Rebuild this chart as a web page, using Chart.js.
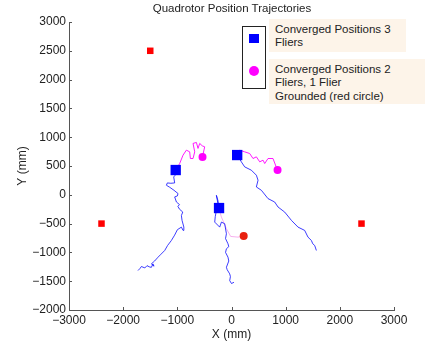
<!DOCTYPE html>
<html>
<head>
<meta charset="utf-8">
<script src="https://cdn.jsdelivr.net/npm/chart.js@4"></script>
<style>
  body { margin: 0; background: #fff; }
  #wrap { position: relative; width: 428px; height: 345px; font-family: "Liberation Sans", Arial, sans-serif; color: #222; }
  #title { position: absolute; left: 0; width: 464px; top: 2px; text-align: center; font-size: 11.5px; }
  .lgbox { position: absolute; left: 242px; top: 26px; width: 22px; height: 61px; border: 1px solid #222; }
  .lgsq { position: absolute; left: 249px; top: 34px; width: 10px; height: 9px; background: #0000ff; }
  .lgci { position: absolute; left: 249px; top: 66px; width: 10px; height: 10px; border-radius: 50%; background: #ff00ff; }
  .lgtxt { position: absolute; left: 269px; background: #fdf4e9; font-size: 11.5px; padding-left: 6px; box-sizing: border-box; }
</style>
</head>
<body>
<div id="wrap">
  <canvas id="c" width="428" height="345"></canvas>
  <div id="title">Quadrotor Position Trajectories</div>
  <div class="lgbox"></div>
  <div class="lgsq"></div>
  <div class="lgci"></div>
  <div class="lgtxt" style="top:19px;width:137px;height:33px;line-height:13px;padding-top:4px;">Converged Positions 3<br>Fliers</div>
  <div class="lgtxt" style="top:59px;width:156px;height:45px;line-height:13.3px;padding-top:4px;">Converged Positions 2<br>Fliers, 1 Flier<br>Grounded (red circle)</div>
</div>
<script>
// axis ticks
const xTicks = [-3000, -2000, -1000, 0, 1000, 2000, 3000];
const yTicks = [-2000, -1500, -1000, -500, 0, 500, 1000, 1500, 2000, 2500, 3000];

// markers
const redSqX = [-1500, -2400, 2400];
const redSqY = [2500, -500, -500];
const blueSqX = [-1030, 105, -230];
const blueSqY = [430, 690, -230];
const magCircX = [-535, 850];
const magCircY = [655, 430];
const redCircX = [225];
const redCircY = [-715];

// left flier, 3-flier phase (blue)
const t1bX = [-1726, -1690, -1663, -1600, -1560, -1520, -1480, -1450, -1430, -1479, -1420, -1356, -1300, -1233, -1180, -1110, -1050, -999, -925, -895, -880, -913, -925, -900, -960, -990, -960, -1017, -1049, -1000, -987, -1061, -1140, -1202, -1184, -1120, -1049, -1067, -1040, -1049, -1030];
const t1bY = [-1315, -1280, -1245, -1270, -1230, -1250, -1260, -1200, -1240, -1199, -1150, -1083, -1030, -967, -880, -793, -700, -606, -561, -618, -560, -444, -360, -299, -250, -200, -170, -125, -37, -20, 21, 78, 130, 166, 206, 200, 206, 310, 340, 369, 427];
// left flier, 2-flier phase (magenta)
const t1mX = [-1030, -956, -895, -833, -772, -759, -710, -679, -710, -648, -618, -587, -540, -495, -537];
const t1mY = [427, 544, 688, 775, 746, 630, 630, 746, 892, 909, 805, 892, 850, 833, 655];

// middle flier (blue)
const t2bX = [46, 0, -33, -20, -33, -80, -94, -50, -65, -110, -94, -50, -65, -110, -94, -126, -186, -218, -310, -300, -279, -236, -250, -279, -236];
const t2bY = [-1519, -1540, -1490, -1420, -1373, -1300, -1258, -1150, -1083, -1000, -937, -900, -850, -760, -676, -502, -474, -561, -474, -380, -270, -223, -100, -9, -223];
// middle flier to ground (pink)
const t2mX = [-236, -186, -94, -15, 120, 225];
const t2mY = [-223, -387, -589, -723, -735, -715];

// right flier (blue)
const t3bX = [1567, 1536, 1500, 1475, 1412, 1351, 1228, 1106, 982, 859, 797, 674, 552, 459, 490, 459, 367, 243, 182, 105];
const t3bY = [-967, -880, -850, -793, -735, -618, -561, -444, -300, -212, -125, -66, 78, 136, 253, 340, 427, 485, 572, 690];
// right flier (magenta)
const t3mX = [105, 151, 243, 336, 397, 459, 521, 582, 613, 674, 766, 847];
const t3mY = [690, 775, 746, 717, 630, 659, 572, 601, 543, 630, 630, 430];

const pts = (xs, ys) => xs.map((x, i) => ({ x: x, y: ys[i] }));
const line = (xs, ys, color, w) => ({
  data: pts(xs, ys), showLine: true, borderColor: color, borderWidth: w,
  pointRadius: 0, fill: false, tension: 0, order: 2
});
const mark = (xs, ys, style, r, color) => ({
  data: pts(xs, ys), showLine: false, pointStyle: style, pointRadius: r,
  backgroundColor: color, borderColor: color, borderWidth: 0, order: 0
});

const minus = v => v < 0 ? '\u2212' + Math.abs(v) : String(v);

// inward tick marks like matlab
const innerTicks = {
  id: 'innerTicks',
  afterDraw(chart) {
    const { ctx, chartArea, scales } = chart;
    ctx.save();
    ctx.strokeStyle = '#555';
    ctx.lineWidth = 1;
    ctx.beginPath();
    xTicks.forEach(v => {
      const px = Math.round(scales.x.getPixelForValue(v)) + 0.5;
      ctx.moveTo(px, chartArea.bottom);
      ctx.lineTo(px, chartArea.bottom - 3);
    });
    yTicks.forEach(v => {
      const py = Math.round(scales.y.getPixelForValue(v)) + 0.5;
      ctx.moveTo(chartArea.left, py);
      ctx.lineTo(chartArea.left + 3, py);
    });
    ctx.stroke();
    ctx.restore();
  }
};

const font = { family: '"Liberation Sans", Arial, sans-serif', size: 12 };

new Chart(document.getElementById('c'), {
  type: 'scatter',
  data: {
    datasets: [
      line(t1bX, t1bY, 'rgba(0,0,255,0.85)', 0.9),
      line(t2bX, t2bY, 'rgba(0,0,255,0.85)', 0.9),
      line(t3bX, t3bY, 'rgba(0,0,255,0.85)', 0.9),
      line(t1mX, t1mY, '#ff00ff', 0.9),
      line(t3mX, t3mY, '#ff00ff', 0.9),
      line(t2mX, t2mY, '#f5a6ec', 0.9),
      mark(redSqX, redSqY, 'rect', 4.6, '#ff0000'),
      mark(blueSqX, blueSqY, 'rect', 7.3, '#0000ff'),
      mark(magCircX, magCircY, 'circle', 4, '#ff00ff'),
      mark(redCircX, redCircY, 'circle', 4, '#e8200f')
    ]
  },
  options: {
    responsive: false,
    animation: false,
    devicePixelRatio: 1,
    layout: { padding: { top: 22, right: 34, bottom: 0, left: 0 } },
    plugins: { legend: { display: false }, tooltip: { enabled: false }, title: { display: false } },
    scales: {
      x: {
        type: 'linear', min: -3000, max: 3000,
        afterFit: s => { s.height = 35; },
        afterBuildTicks: s => { s.ticks = xTicks.map(v => ({ value: v })); },
        grid: { display: false, drawTicks: false },
        border: { display: true, color: '#555', width: 1 },
        ticks: { font: font, color: '#222', padding: 3, maxRotation: 0, callback: minus },
        title: { display: true, text: 'X (mm)', font: font, color: '#222', padding: { top: 0, bottom: 3 } }
      },
      y: {
        type: 'linear', min: -2000, max: 3000,
        afterFit: s => { s.width = 69; },
        afterBuildTicks: s => { s.ticks = yTicks.map(v => ({ value: v })); },
        grid: { display: false, drawTicks: false },
        border: { display: true, color: '#555', width: 1 },
        ticks: { font: font, color: '#222', padding: 3, callback: minus },
        title: { display: true, text: 'Y (mm)', font: font, color: '#222', padding: { top: 15, bottom: 0 } }
      }
    }
  },
  plugins: [innerTicks]
});
</script>
</body>
</html>
